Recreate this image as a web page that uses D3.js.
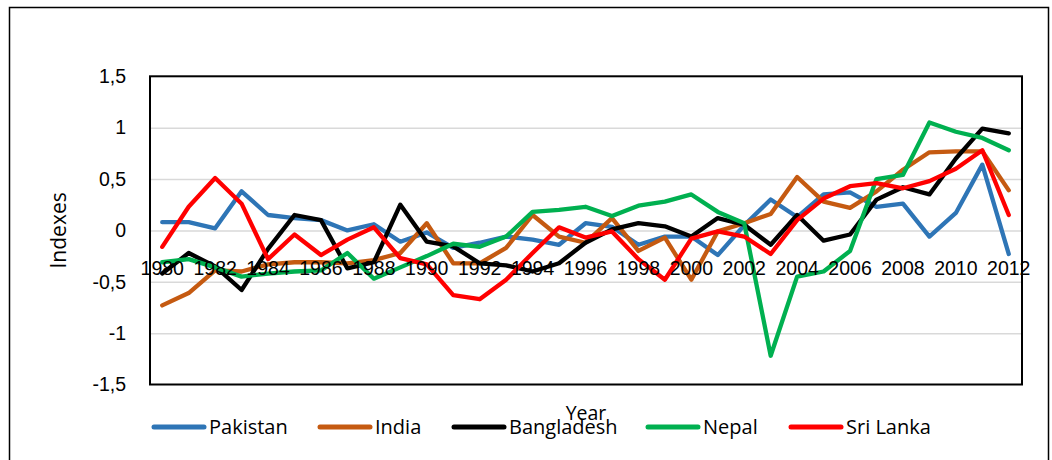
<!DOCTYPE html>
<html>
<head>
<meta charset="utf-8">
<script src="https://cdn.jsdelivr.net/npm/d3@7"></script>
<style>
    body { margin: 0; background: #fff; }
    svg { font-family: "Open Sans", sans-serif; }
</style>
</head>
<body>
<svg id="chart_root" width="1052" height="460"></svg>
<script>
// years on the x axis
var years = [];
for (var yr = 1980; yr <= 2012; yr++) { years.push(yr); }
var x_tick_years = [1980, 1982, 1984, 1986, 1988, 1990, 1992, 1994, 1996, 1998, 2000,
                    2002, 2004, 2006, 2008, 2010, 2012];
var y_ticks = [-1.5, -1, -0.5, 0, 0.5, 1, 1.5];

var series_names = ["Pakistan", "India", "Bangladesh", "Nepal", "Sri Lanka"];
var series_colours = ["#2E75B6", "#C55A11", "#000000", "#00B050", "#FF0000"];

// values, 1980..2012
var pakistan = [0.08, 0.08, 0.02, 0.38, 0.15, 0.12, 0.10, 0.0, 0.06, -0.11, -0.02,
                -0.17, -0.12, -0.06, -0.09, -0.14, 0.07, 0.035, -0.14, -0.06, -0.06,
                -0.24, 0.05, 0.30, 0.13, 0.35, 0.37, 0.23, 0.26, -0.06, 0.17, 0.64, -0.23];
var india = [-0.73, -0.61, -0.39, -0.40, -0.33, -0.31, -0.31, -0.32, -0.29, -0.22, 0.07,
             -0.32, -0.32, -0.17, 0.15, -0.06, -0.12, 0.12, -0.20, -0.07, -0.48,
             -0.01, 0.07, 0.16, 0.52, 0.28, 0.22, 0.38, 0.59, 0.76, 0.77, 0.77, 0.39];
var bangladesh = [-0.42, -0.22, -0.35, -0.58, -0.18, 0.15, 0.10, -0.37, -0.31, 0.25, -0.11,
                  -0.155, -0.32, -0.34, -0.40, -0.32, -0.12, 0.01, 0.07, 0.04, -0.06,
                  0.12, 0.055, -0.14, 0.15, -0.10, -0.04, 0.30, 0.42, 0.35, 0.70, 0.99, 0.945];
var nepal = [-0.31, -0.28, -0.36, -0.45, -0.42, -0.40, -0.39, -0.22, -0.47, -0.36, -0.25,
             -0.13, -0.16, -0.06, 0.18, 0.20, 0.23, 0.14, 0.24, 0.28, 0.35,
             0.18, 0.07, -1.22, -0.45, -0.40, -0.20, 0.50, 0.54, 1.05, 0.96, 0.90, 0.78];
var sri_lanka = [-0.16, 0.23, 0.51, 0.26, -0.28, -0.04, -0.24, -0.09, 0.03, -0.27, -0.33,
                 -0.63, -0.67, -0.48, -0.22, 0.03, -0.07, -0.01, -0.28, -0.48, -0.08,
                 -0.01, -0.06, -0.23, 0.10, 0.31, 0.43, 0.46, 0.41, 0.48, 0.60, 0.78, 0.15];
var series_values = [pakistan, india, bangladesh, nepal, sri_lanka];

var svg = d3.select("#chart_root");

// outer frame of the chart
svg.append("rect")
.attr("x", 9.5).attr("y", 7.5)
.attr("width", 1039).attr("height", 470)
.attr("fill", "none")
.attr("stroke", "#000")
.attr("stroke-width", 1.5);

var plot_left = 150, plot_right = 1022, plot_top = 76.3, plot_bottom = 384.5;

var x = d3.scaleBand()
.domain(years)
.range([plot_left - 1, plot_right]);

var y = d3.scaleLinear()
.domain([-1.5, 1.5])
.range([plot_bottom, plot_top]);

// gridlines
svg.append("g")
.attr("class", "grid")
.attr("transform", "translate(" + plot_left + ",0)")
.call(d3.axisLeft(y).tickValues(y_ticks.slice(1, -1)).tickSize(-(plot_right - plot_left)).tickFormat(""))
.call(function(g) { g.select(".domain").remove(); })
.selectAll(".tick line")
.attr("stroke", "#D9D9D9")
.attr("stroke-width", 1.5);

// y tick labels
svg.append("g")
.attr("class", "y-axis")
.attr("transform", "translate(" + plot_left + ",0)")
.call(d3.axisLeft(y).tickValues(y_ticks).tickSize(0).tickPadding(24)
      .tickFormat(function(d) { return String(d).replace(".", ","); }))
.call(function(g) { g.select(".domain").remove(); })
.selectAll("text")
.attr("font-size", 19.5)
.attr("fill", "#000");

// plot frame
svg.append("rect")
.attr("x", plot_left).attr("y", plot_top)
.attr("width", plot_right - plot_left).attr("height", plot_bottom - plot_top)
.attr("fill", "none")
.attr("stroke", "#000")
.attr("stroke-width", 2);

// the lines
var line = d3.line()
.x(function(d, i) { return x(years[i]) + x.bandwidth() / 2; })
.y(function(d) { return y(d); });

svg.append("g")
.selectAll("path")
.data(series_values)
.enter().append("path")
.attr("d", line)
.attr("fill", "none")
.attr("stroke", function(d, i) { return series_colours[i]; })
.attr("stroke-width", 4.3)
.attr("stroke-linejoin", "round")
.attr("stroke-linecap", "round");

// x tick labels sit under the zero line
svg.append("g")
.attr("class", "x-axis")
.attr("transform", "translate(0," + y(0) + ")")
.call(d3.axisBottom(x).tickValues(x_tick_years).tickSize(0).tickPadding(31))
.call(function(g) { g.select(".domain").remove(); })
.selectAll("text")
.attr("font-size", 19.5)
.attr("fill", "#000");

// axis titles
svg.append("text")
.attr("transform", "translate(66," + y(0) + ") rotate(-90)")
.attr("text-anchor", "middle")
.attr("font-size", 21)
.text("Indexes");

svg.append("text")
.attr("x", (plot_left + plot_right) / 2)
.attr("y", 420)
.attr("text-anchor", "middle")
.attr("font-size", 19.5)
.text("Year");

// legend
var legend_x = [152, 318, 452, 646, 789];
var legend = svg.append("g")
.selectAll("g")
.data(series_names)
.enter().append("g")
.attr("transform", function(d, i) { return "translate(" + legend_x[i] + ",427)"; });

legend.append("line")
.attr("x1", 2).attr("x2", 52)
.attr("stroke", function(d, i) { return series_colours[i]; })
.attr("stroke-width", 5)
.attr("stroke-linecap", "round");

legend.append("text")
.attr("x", 57)
.attr("y", 7)
.attr("font-size", 20)
.text(function(d) { return d; });
</script>
</body>
</html>
